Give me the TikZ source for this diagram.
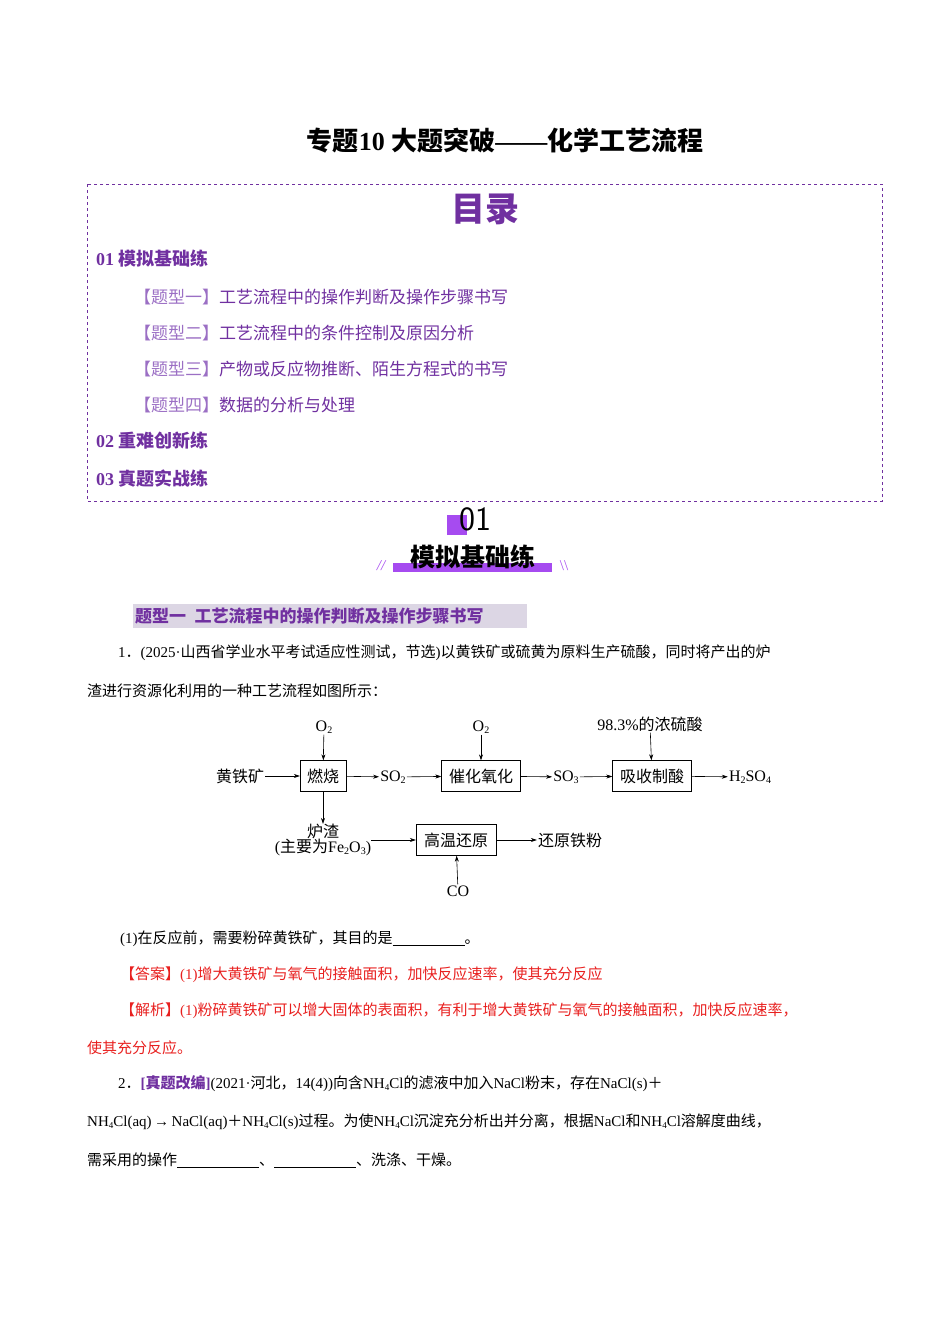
\documentclass[tikz,border=0pt]{standalone}
\usetikzlibrary{arrows.meta}
\usepackage{fontspec}
\setmainfont{Liberation Serif}
\newfontfamily\cjk{Noto Sans CJK SC}
\XeTeXinterchartokenstate=1
\newXeTeXintercharclass\cjkclass
\newcount\cc
\cc="3000 \loop\ifnum\cc<"A000 \XeTeXcharclass\cc=\cjkclass \advance\cc 1 \repeat
\cc="FF00 \loop\ifnum\cc<"FFF0 \XeTeXcharclass\cc=\cjkclass \advance\cc 1 \repeat
\XeTeXinterchartoks 0 \cjkclass={\begingroup\cjk}
\XeTeXinterchartoks 4095 \cjkclass={\begingroup\cjk}
\XeTeXinterchartoks \cjkclass 0={\endgroup}
\XeTeXinterchartoks \cjkclass 4095={\endgroup}
\definecolor{pur}{HTML}{7030A0}
\definecolor{lpur}{HTML}{9B6FC4}
\definecolor{vio}{HTML}{A64BF0}
\definecolor{ans}{HTML}{E8201F}
\definecolor{hbg}{HTML}{DCD6E4}
\newcommand{\subx}[1]{\raisebox{-0.3ex}{\fontsize{10}{10}\selectfont #1}}
\newcommand{\ssubx}[1]{\raisebox{-0.3ex}{\fontsize{9}{9}\selectfont #1}}
\begin{document}
\begin{tikzpicture}[x=1pt,y=-1pt,
  txt/.style={anchor=west,inner sep=0pt,font=\fontsize{15}{15}\selectfont},
  box/.style={draw,inner sep=0pt,minimum height=31pt,font=\fontsize{16}{16}\selectfont},
  lab/.style={inner sep=1pt,font=\fontsize{16}{16}\selectfont},
  arr/.style={-{Stealth[length=6pt,width=4pt]},line width=0.6pt}]
\useasboundingbox (0,0) rectangle (950,1344);
% title
\node[inner sep=0pt,font=\fontsize{26}{26}\selectfont\bfseries] (title) at (505,141) {专题10 大题突破——化学工艺流程};
% dashed box
\draw[pur,dashed,line width=0.8pt] (87,184) rectangle (882,501);
\node[inner sep=0pt,pur,font=\fontsize{34}{34}\selectfont\bfseries] (ml) at (485,209) {目录};
\node[txt,pur,font=\fontsize{18}{18}\selectfont\bfseries] (t1) at (96,259) {01 模拟基础练};
\node[txt,font=\fontsize{17}{17}\selectfont] (i1) at (134,297) {\textcolor{lpur}{【题型一】}\textcolor{pur}{工艺流程中的操作判断及操作步骤书写}};
\node[txt,font=\fontsize{17}{17}\selectfont] (i2) at (134,333) {\textcolor{lpur}{【题型二】}\textcolor{pur}{工艺流程中的条件控制及原因分析}};
\node[txt,font=\fontsize{17}{17}\selectfont] (i3) at (134,369) {\textcolor{lpur}{【题型三】}\textcolor{pur}{产物或反应物推断、陌生方程式的书写}};
\node[txt,font=\fontsize{17}{17}\selectfont] (i4) at (134,405) {\textcolor{lpur}{【题型四】}\textcolor{pur}{数据的分析与处理}};
\node[txt,pur,font=\fontsize{18}{18}\selectfont\bfseries] (t2) at (96,441) {02 重难创新练};
\node[txt,pur,font=\fontsize{18}{18}\selectfont\bfseries] (t3) at (96,479) {03 真题实战练};
% section badge
\fill[vio] (447,515) rectangle (467,535);
\node[inner sep=0pt,font=\fontsize{34}{34}\selectfont\sffamily] (n01) at (475,519) {01};
\fill[vio] (393,563) rectangle (552,572);
\node[inner sep=0pt,font=\fontsize{25}{25}\selectfont\bfseries] (mn) at (473,557) {模拟基础练};
\node[inner sep=0pt,vio,font=\fontsize{15}{15}\selectfont\itshape] (s1) at (381,566) {//};
\node[inner sep=0pt,vio,font=\fontsize{15}{15}\selectfont] (s2) at (564,566) {\textbackslash\textbackslash};
% heading
\fill[hbg] (133,604) rectangle (527,628);
\node[txt,pur,font=\fontsize{17}{17}\selectfont\bfseries] (h1) at (135,616) {题型一\ \ 工艺流程中的操作判断及操作步骤书写};
% paragraph
\node[txt] (p1) at (118,653) {1．(2025·山西省学业水平考试适应性测试，节选)以黄铁矿或硫黄为原料生产硫酸，同时将产出的炉};
\node[txt] (p2) at (87,691) {渣进行资源化利用的一种工艺流程如图所示：};
% flow diagram
\node[box,minimum width=46pt] (rs) at (323,776) {燃烧};
\node[box,minimum width=79pt] (ch) at (481,776) {催化氧化};
\node[box,minimum width=79pt] (xs) at (652,776) {吸收制酸};
\node[box,minimum width=80pt] (gw) at (456,840) {高温还原};
\node[lab] (hk) at (240,776) {黄铁矿};
\node[lab] (so2) at (393,777) {SO\subx{2}};
\node[lab] (so3) at (566,777) {SO\subx{3}};
\node[lab] (h2) at (750,777) {H\subx{2}SO\subx{4}};
\node[lab] (o1) at (324,727) {O\subx{2}};
\node[lab] (o2) at (481,727) {O\subx{2}};
\node[lab] (nl) at (650,724) {98.3\%的浓硫酸};
\node[lab,align=center,inner sep=0pt] (lz) at (323,840) {炉渣\\[-1pt](主要为Fe\subx{2}O\subx{3})};
\node[lab] (tf) at (570,840) {还原铁粉};
\node[lab] (co) at (458,891) {CO};
\draw[arr] (hk) -- (rs);
\draw[arr] (rs) -- (so2);
\draw[arr] (so2) -- (ch);
\draw[arr] (ch) -- (so3);
\draw[arr] (so3) -- (xs);
\draw[arr] (xs) -- (h2);
\draw[arr] (o1) -- (rs);
\draw[arr] (o2) -- (ch);
\draw[arr] (nl) -- (xs);
\draw[arr] (rs) -- (lz);
\draw[arr] (lz.east|-gw) -- (gw);
\draw[arr] (gw) -- (tf);
\draw[arr] (co) -- (gw);
% questions
\node[txt] (q1) at (120,939) {(1)在反应前，需要粉碎黄铁矿，其目的是\underline{\hspace{72pt}}。};
\node[txt,ans] (a1) at (120,975) {【答案】(1)增大黄铁矿与氧气的接触面积，加快反应速率，使其充分反应};
\node[txt,ans] (a2) at (120,1011) {【解析】(1)粉碎黄铁矿可以增大固体的表面积，有利于增大黄铁矿与氧气的接触面积，加快反应速率，};
\node[txt,ans] (a3) at (87,1048) {使其充分反应。};
\node[txt] (q2) at (118,1084) {2．\textcolor{pur}{\bfseries[真题改编]}(2021·河北，14(4))向含NH\ssubx{4}Cl的滤液中加入NaCl粉末，存在NaCl(s)＋};
\node[txt] (q3) at (87,1122) {NH\ssubx{4}Cl(aq)\,→\,NaCl(aq)＋NH\ssubx{4}Cl(s)过程。为使NH\ssubx{4}Cl沉淀充分析出并分离，根据NaCl和NH\ssubx{4}Cl溶解度曲线，};
\node[txt] (q4) at (87,1160) {需采用的操作\underline{\hspace{82pt}}、\underline{\hspace{82pt}}、洗涤、干燥。};
\end{tikzpicture}
\end{document}
